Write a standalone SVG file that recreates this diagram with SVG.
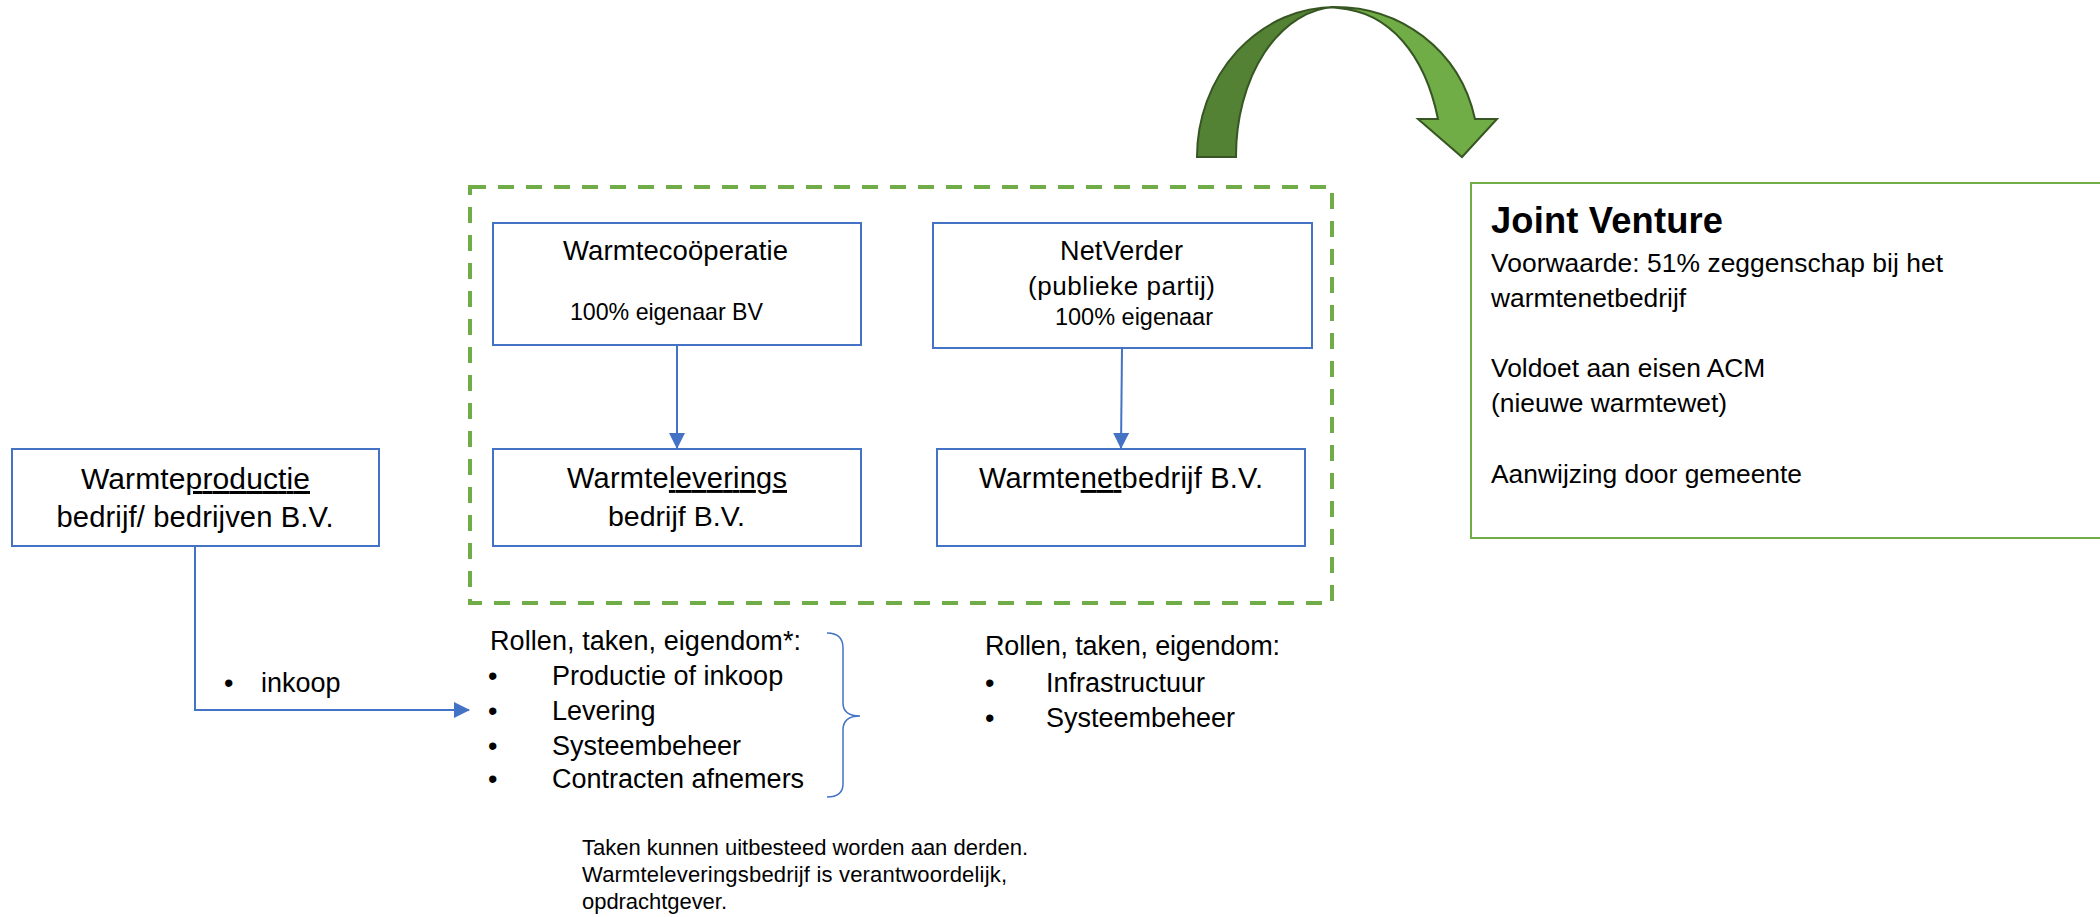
<svg xmlns="http://www.w3.org/2000/svg" width="2100" height="917" viewBox="0 0 2100 917">
<style>
text{font-family:"Liberation Sans",Arial,sans-serif;fill:#000}
.box{fill:#fff;stroke:#4472C4;stroke-width:2}
.conn{fill:none;stroke:#4472C4;stroke-width:2}
.u{text-decoration:underline}
.b27{font-size:27px}
.jv{font-size:26.4px}
</style>
<defs>
<marker id="ah" markerUnits="userSpaceOnUse" markerWidth="16" markerHeight="16" viewBox="0 0 16 16" refX="15" refY="8" orient="auto">
<path d="M0,0 L16,8 L0,16 Z" fill="#4472C4"/>
</marker>
</defs>
<rect width="2100" height="917" fill="#fff"/>

<g id="curved-arrow" stroke="#375623" stroke-width="2" stroke-linejoin="miter">
<path d="M1197,157 A138,150 0 0 1 1335,7 A102,149 0 0 0 1236,157 Z" fill="#548235"/>
<path d="M1330,7 C1400,5 1460,50 1475,119 L1497,119 L1462,157 L1418,119 L1438,119 C1425,55 1390,12 1338,8 Z" fill="#70AD47"/>
</g>

<g id="group-boundary">
<rect x="470" y="187" width="862" height="416" fill="none" stroke="#70AD47" stroke-width="4" stroke-dasharray="16 12"/>
</g>

<g id="connectors">
<line class="conn" x1="677" y1="345" x2="677" y2="448" marker-end="url(#ah)"/>
<line class="conn" x1="1122" y1="348" x2="1121" y2="448" marker-end="url(#ah)"/>
<polyline class="conn" points="195,546 195,710 469,710" marker-end="url(#ah)"/>
<path d="M827,633 Q843,633 843,648 L843,703 Q843,716 860,716 Q843,716 843,730 L843,784 Q843,797 827,797" fill="none" stroke="#4472C4" stroke-width="1.5"/>
</g>

<g id="node-productie">
<rect class="box" x="12" y="449" width="367" height="97"/>
<text x="195.5" y="489" text-anchor="middle" font-size="30" textLength="229">Warmte<tspan class="u">productie</tspan></text>
<text x="195" y="527" text-anchor="middle" font-size="29.2" textLength="277">bedrijf/ bedrijven B.V.</text>
</g>

<g id="node-cooperatie">
<rect class="box" x="493" y="223" width="368" height="122"/>
<text x="675.5" y="260" text-anchor="middle" font-size="27.5" textLength="225">Warmtecoöperatie</text>
<text x="570" y="320" font-size="23.2" textLength="193">100% eigenaar BV</text>
</g>

<g id="node-netverder">
<rect class="box" x="933" y="223" width="379" height="125"/>
<text x="1121.5" y="260" text-anchor="middle" font-size="27" textLength="123">NetVerder</text>
<text x="1121.5" y="295" text-anchor="middle" font-size="26" textLength="187">(publieke partij)</text>
<text x="1055" y="325" font-size="23.5" textLength="158">100% eigenaar</text>
</g>

<g id="node-leverings">
<rect class="box" x="493" y="449" width="368" height="97"/>
<text x="677" y="488" text-anchor="middle" font-size="29" textLength="220">Warmte<tspan class="u">leverings</tspan></text>
<text x="676.5" y="526" text-anchor="middle" font-size="28.5" textLength="137">bedrijf B.V.</text>
</g>

<g id="node-netbedrijf">
<rect class="box" x="937" y="449" width="368" height="97"/>
<text x="1121" y="488" text-anchor="middle" font-size="29" textLength="284">Warmte<tspan class="u">net</tspan>bedrijf B.V.</text>
</g>

<g id="node-jointventure">
<rect x="1471" y="183" width="640" height="355" fill="#fff" stroke="#70AD47" stroke-width="2"/>
<text x="1491" y="233" font-size="36.3" font-weight="bold" textLength="232">Joint Venture</text>
<text class="jv" x="1491" y="272" textLength="452">Voorwaarde: 51% zeggenschap bij het</text>
<text class="jv" x="1491" y="307">warmtenetbedrijf</text>
<text class="jv" x="1491" y="377">Voldoet aan eisen ACM</text>
<text class="jv" x="1491" y="412">(nieuwe warmtewet)</text>
<text class="jv" x="1491" y="483">Aanwijzing door gemeente</text>
</g>

<g id="label-inkoop">
<text class="b27" x="224" y="692">•</text>
<text class="b27" x="261" y="692">inkoop</text>
</g>

<g id="list-leverings">
<text class="b27" x="490" y="650" textLength="311">Rollen, taken, eigendom*:</text>
<text class="b27" x="488" y="685">•</text>
<text class="b27" x="552" y="685">Productie of inkoop</text>
<text class="b27" x="488" y="720">•</text>
<text class="b27" x="552" y="720">Levering</text>
<text class="b27" x="488" y="755">•</text>
<text class="b27" x="552" y="755">Systeembeheer</text>
<text class="b27" x="488" y="788">•</text>
<text class="b27" x="552" y="788">Contracten afnemers</text>
</g>

<g id="list-netbedrijf">
<text class="b27" x="985" y="655" textLength="295">Rollen, taken, eigendom:</text>
<text class="b27" x="985" y="692">•</text>
<text class="b27" x="1046" y="692">Infrastructuur</text>
<text class="b27" x="985" y="727">•</text>
<text class="b27" x="1046" y="727">Systeembeheer</text>
</g>

<g id="note">
<text x="582" y="855" font-size="22" textLength="446">Taken kunnen uitbesteed worden aan derden.</text>
<text x="582" y="882" font-size="22" textLength="425">Warmteleveringsbedrijf is verantwoordelijk,</text>
<text x="582" y="909" font-size="22" textLength="145">opdrachtgever.</text>
</g>
</svg>
